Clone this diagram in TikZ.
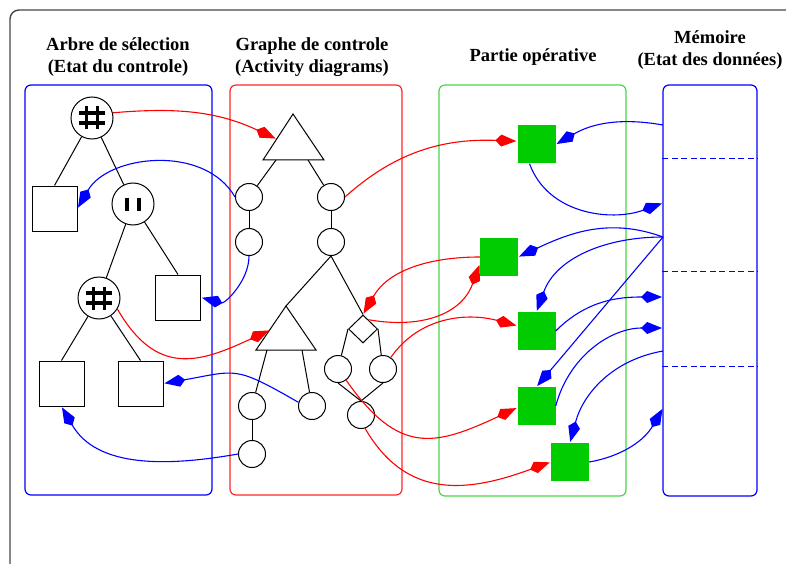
\documentclass[tikz,border=0pt]{standalone}
\usepackage{fontspec}
\setmainfont{Liberation Serif}
\usetikzlibrary{arrows.meta,shapes.geometric}
\definecolor{gfill}{RGB}{0,204,0}
\definecolor{gbox}{RGB}{70,215,70}
\definecolor{frame}{RGB}{70,70,70}
\begin{document}
\begin{tikzpicture}[x=1pt,y=1pt,
  box/.style={draw, rounded corners=6pt, line width=1.2pt, inner sep=0pt},
  tcirc/.style={draw, circle, minimum size=42pt, inner sep=0pt, line width=1pt},
  acirc/.style={draw, circle, minimum size=27pt, inner sep=0pt, line width=1pt},
  tsq/.style={draw, minimum size=45pt, inner sep=0pt, line width=1pt},
  gsq/.style={fill=gfill, minimum size=38pt, inner sep=0pt},
  edge/.style={line width=1pt},
  kite/.style={-{Kite[length=21pt,width=12pt,inset=6pt]}, shorten >=1pt},
  rarr/.style={red, line width=1.1pt, kite},
  barr/.style={blue, line width=1.1pt, kite},
  hashnode/.style={tcirc, path picture={
     \draw[line width=3.8pt] (path picture bounding box.center) ++(-5.5,11.5) -- ++(0,-23);
     \draw[line width=3.8pt] (path picture bounding box.center) ++(5.5,11.5) -- ++(0,-23);
     \draw[line width=3.8pt] (path picture bounding box.center) ++(-13,5) -- ++(26,0);
     \draw[line width=3.8pt] (path picture bounding box.center) ++(-13,-5) -- ++(26,0);}},
  barsnode/.style={tcirc, path picture={
     \draw[line width=4pt] (path picture bounding box.center) ++(-6,6.5) -- ++(0,-13);
     \draw[line width=4pt] (path picture bounding box.center) ++(6,6.5) -- ++(0,-13);}},
  head/.style={font=\bfseries\fontsize{18.5}{22}\selectfont, align=center, inner sep=0pt}
]
\useasboundingbox (0,0) rectangle (786,-564);
\clip (0,0) rectangle (786,-564);
% outer frame
\draw[frame, line width=1.4pt, rounded corners=9pt] (10,-10) rectangle (820,-600);

% headings
\node[head] (h1) at (118,-57) {Arbre de sélection\\(Etat du controle)};
\node[head] (h2) at (312,-57) {Graphe de controle\\(Activity diagrams)};
\node[head] (h3) at (533,-57) {Partie opérative};
\node[head] (h4) at (710,-50) {Mémoire\\(Etat des données)};

% column boxes
\node[box, blue, minimum width=187pt, minimum height=410pt] (bA) at (118.5,-290) {};
\node[box, red!85!white, minimum width=172pt, minimum height=410pt] (bG) at (316,-290) {};
\node[box, gbox, minimum width=187pt, minimum height=411pt] (bP) at (532.5,-290.5) {};
\node[box, blue, minimum width=94pt, minimum height=411pt] (bM) at (710,-290.5) {};
\draw[blue, line width=1pt, dash pattern=on 6pt off 3.5pt] (bM.west |- 0,-159) -- (bM.east |- 0,-159);
\draw[blue, line width=1pt, dash pattern=on 6pt off 3.5pt] (bM.west |- 0,-271) -- (bM.east |- 0,-271);
\draw[blue, line width=1pt, dash pattern=on 6pt off 3.5pt] (bM.west |- 0,-366) -- (bM.east |- 0,-366);

% selection tree
\node[hashnode] (r1) at (92,-118) {};
\node[tsq] (s1) at (54.5,-208.5) {};
\node[barsnode] (p1) at (133,-204) {};
\node[hashnode] (r2) at (99,-298) {};
\node[tsq] (s2) at (178,-297.5) {};
\node[tsq] (s3) at (61.5,-383.5) {};
\node[tsq] (s4) at (140.5,-383.5) {};
\draw[edge] (r1) -- (s1.north);
\draw[edge] (r1) -- (p1);
\draw[edge] (p1) -- (r2);
\draw[edge] (p1) -- (s2.north);
\draw[edge] (r2) -- (s3.north);
\draw[edge] (r2) -- (s4.north);

% activity graph
\coordinate (t1top) at (293,-114);
\coordinate (t1bl) at (263,-160);
\coordinate (t1br) at (324,-160);
\draw[edge] (t1top) -- (t1bl) -- (t1br) -- cycle;
\coordinate (t1a) at (276,-160);
\coordinate (t1b) at (308,-160);
\coordinate (t1l) at (276.5,-139);
\coordinate (t2top) at (286,-306);
\coordinate (t2bl) at (256,-350);
\coordinate (t2br) at (316,-350);
\draw[edge] (t2top) -- (t2bl) -- (t2br) -- cycle;
\coordinate (t2a) at (267,-350);
\coordinate (t2b) at (302,-350);
\coordinate (t2l) at (270,-330);
\node[acirc] (c1) at (249,-197) {};
\node[acirc] (c2) at (249,-242) {};
\node[acirc] (c3) at (331,-197) {};
\node[acirc] (c4) at (331,-242) {};
\node[acirc] (c5) at (252,-406) {};
\node[acirc] (c6) at (312,-406) {};
\node[acirc] (c7) at (252,-454) {};
\node[acirc] (c8) at (338,-369) {};
\node[acirc] (c9) at (383,-369) {};
\node[acirc] (c10) at (361,-415) {};
\node[draw, diamond, minimum width=29pt, minimum height=28pt, inner sep=0pt, line width=1pt] (d) at (363,-329) {};
\draw[edge] (t1a) -- (c1);
\draw[edge] (t1b) -- (c3);
\draw[edge] (c1) -- (c2);
\draw[edge] (c3) -- (c4);
\draw[edge] (c4.south) -- (t2top);
\draw[edge] (c4.south) -- (d.north);
\draw[edge] (t2a) -- (c5);
\draw[edge] (t2b) -- (c6);
\draw[edge] (c5) -- (c7);
\draw[edge] (d.west) -- (c8);
\draw[edge] (d.east) -- (c9);
\draw[edge] (c8.south) -- (c10.north);
\draw[edge] (c9.south) -- (c10.north);

% operative part
\node[gsq] (g1) at (536.5,-144.5) {};
\node[gsq] (g2) at (499,-257) {};
\node[gsq] (g3) at (536.5,-331) {};
\node[gsq] (g4) at (536.5,-406) {};
\node[gsq] (g5) at (570,-462) {};

% memory points
\coordinate (mA) at (663,-125);
\coordinate (mB) at (663,-203);
\coordinate (mC) at (663,-237);
\coordinate (mD) at (663,-297);
\coordinate (mE) at (663,-328);
\coordinate (mF) at (663,-351);
\coordinate (mG) at (663,-408);

% red connectors
\draw[rarr] (r1.14) to[out=5, in=155] (t1l);
\draw[rarr] (c3.east) to[out=42, in=178] (g1.170);
\draw[rarr] (g2.west) to[out=180, in=60] (d.north);
\draw[rarr] (d.60) to[out=-10, in=250, looseness=1.1] (g2.200);
\draw[rarr] (r2.-31) to[out=-60, in=205, looseness=1.3] (t2l);
\draw[rarr] (c9.56) to[out=55, in=165] (g3.165);
\draw[rarr] (c8.-54) to[out=-55, in=205, looseness=1.35] (g4.185);
\draw[rarr] (c10.-73) to[out=-60, in=200, looseness=1.15] (g5.west);

% blue connectors (tree / graph)
\draw[barr] (c1.west) to[out=120, in=60, looseness=1.0] (s1.east);
\draw[barr] (c2.south) to[out=-90, in=-15] (s2.east);
\draw[barr] (c6.165) to[out=150, in=10, looseness=1.4] (s4.east);
\draw[barr] (c7.west) to[out=190, in=-60] (s3.south);

% blue connectors (memory)
\draw[barr] (mA) to[out=170, in=30] (g1.east);
\draw[barr] (g1.-110) to[out=-70, in=200] (mB);
\draw[barr] (mC) to[out=160, in=25] (g2.east);
\draw[barr] (mC) to[out=180, in=70] (g3.north);
\draw[barr] (mC) -- (g4.north);
\draw[barr] (g3.east) to[out=45, in=180] (mD);
\draw[barr] (g4.east) to[out=75, in=180] (mE);
\draw[barr] (mF) to[out=190, in=75] (g5.north);
\draw[barr] (g5.east) to[out=10, in=240] (mG);
\end{tikzpicture}
\end{document}
